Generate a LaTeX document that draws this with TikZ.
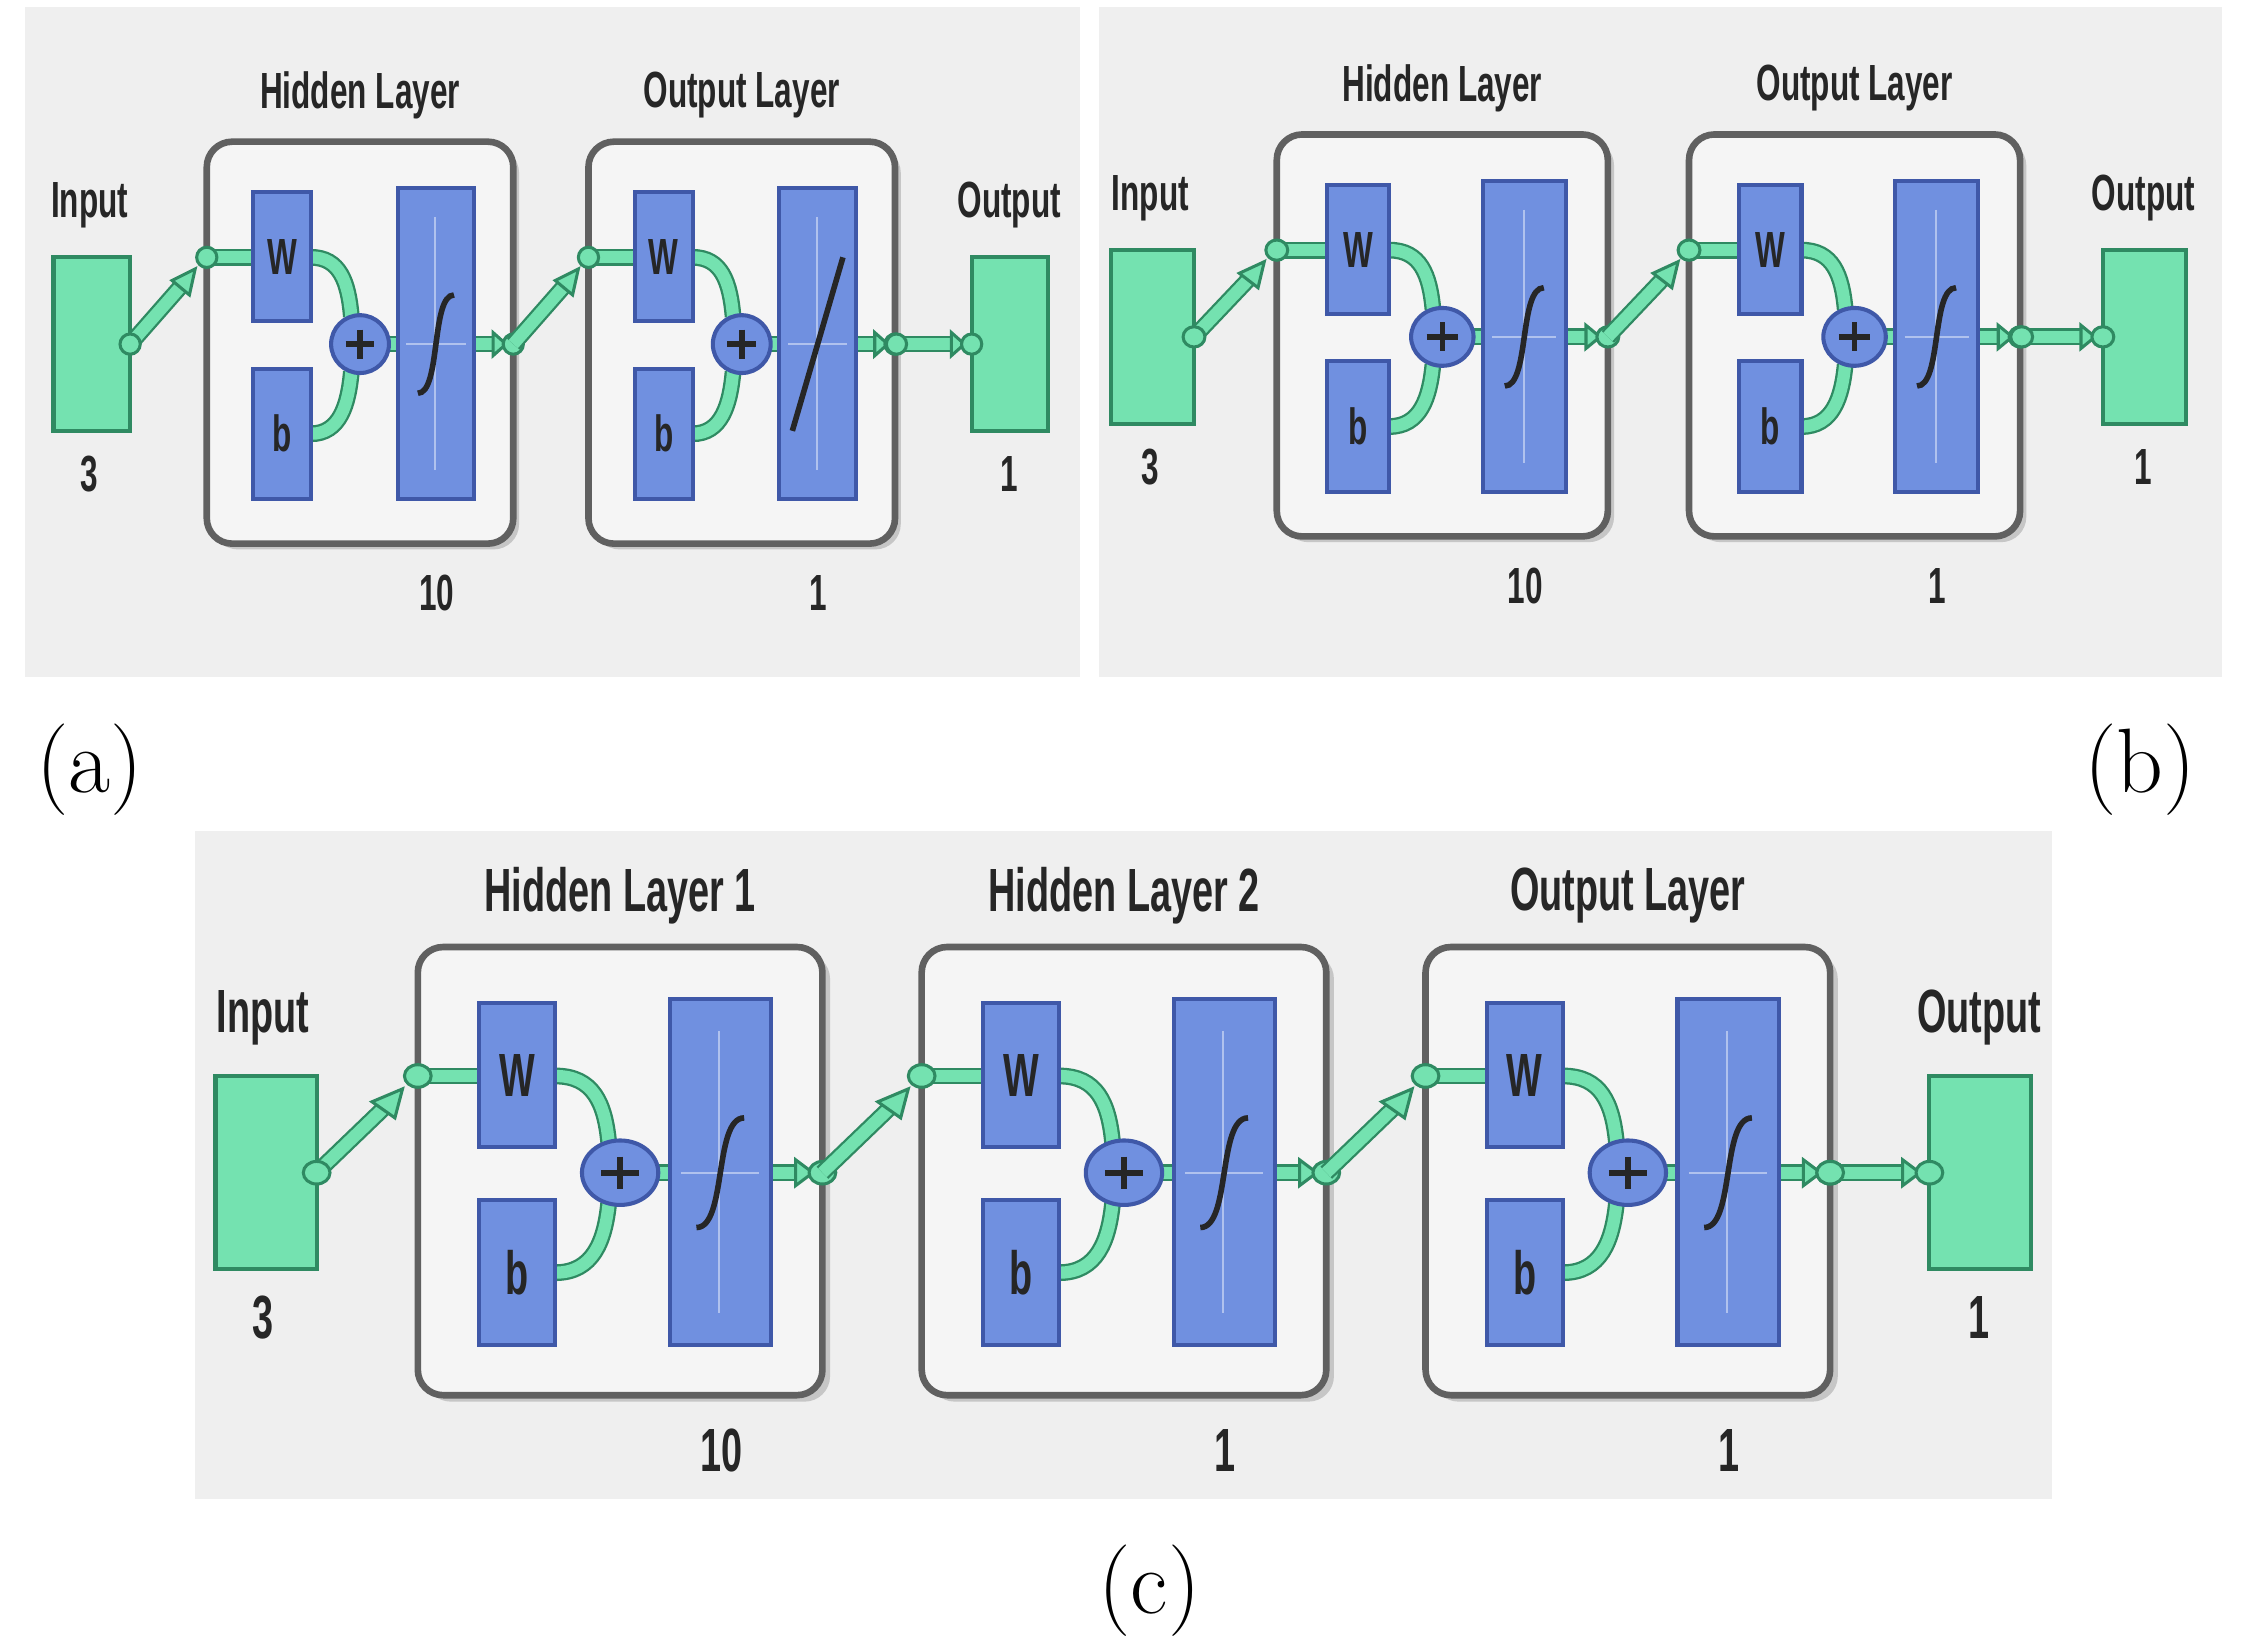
\documentclass[tikz,border=0pt]{standalone}
\usepackage{fontspec}
\newfontfamily\lab[FakeStretch=0.62]{Liberation Sans}
\definecolor{bgc}{HTML}{EFEFEF}
\definecolor{boxc}{HTML}{F5F5F5}
\definecolor{blueF}{HTML}{7090E0}
\definecolor{blueD}{HTML}{3F58A8}
\definecolor{greenF}{HTML}{74E2B0}
\definecolor{greenD}{HTML}{2F8A62}
\tikzset{
 lbox/.style={draw=gray!75!black, line width=1.3pt, fill=boxc, rounded corners=5pt},
 lshadow/.style={fill=gray!45, rounded corners=5pt},
 bluebox/.style={fill=blueF, draw=blueD, line width=0.8pt},
 gblock/.style={fill=greenF, draw=greenD, line width=0.8pt},
 conn/.style={draw=greenD, double=greenF, double distance=2.4pt, line width=0.45pt},
 dot/.style={fill=greenF, draw=greenD, line width=0.6pt},
 glyph/.style={line width=1.1pt, black!85},
 lbl/.style={font=\lab\bfseries\fontsize{\lsz}{\lsz}\selectfont, text=black!85},
 captext/.style={font=\fontsize{18}{20}\selectfont},
}
\def\lsz{10}
\newcommand\sigglyph{\draw[glyph] (146,272) .. controls (162,272) and (155,204) .. (171,204);}
\newcommand\linglyph{\draw[glyph] (141,298) -- (176,178);}
% #1 x0, #2 glyph, #3 title, #4 number
\newcommand\nnlayer[4]{%
 \begin{scope}[shift={(#1,0)}]
 \fill[lshadow] (4,102) rectangle (216,380);
 \draw[lbox] (0,98) rectangle (212,376);
 \draw[conn] (0,178) -- (32,178);
 \draw[conn] (72,178) .. controls (92,178) and (98,195) .. (100,219);
 \draw[conn] (72,300) .. controls (92,300) and (98,280) .. (100,257);
 \draw[conn] (126,238) -- (132,238);
 \draw[conn] (185,238) -- (200,238);
 \draw[dot] (198,230) -- (207,238) -- (198,246) -- cycle;
 \draw[bluebox] (32,133) rectangle (72,222);
 \draw[bluebox] (32,255) rectangle (72,345);
 \draw[bluebox] (132,130) rectangle (185,345);
 \draw[blueF!55!white, line width=0.4pt] (158,150) -- (158,325) (138,238) -- (179,238);
 #2
 \draw[bluebox] (106,238) circle (20);
 \draw[glyph] (96,238) -- (116,238) (106,228) -- (106,248);
 \node[lbl] at (52,178) {W};
 \node[lbl] at (52,300) {b};
 \draw[dot] (0,178) circle (7);
 \draw[dot] (212,238) circle (7);
 \node[lbl] at (106,66) {#3};
 \node[lbl] at (159,410) {#4};
 \end{scope}}
\newcommand\interarrow[1]{%
 \begin{scope}[shift={(#1,0)}]
 \draw[conn] (0,238) -- (36,197);
 \draw[dot] (45,186) -- (41,204) -- (29,194) -- cycle;
 \end{scope}}
\newcommand\nninput{%
 \draw[gblock] (37,178) rectangle (90,298);
 \interarrow{90}
 \draw[dot] (90,238) circle (7);
 \node[lbl] at (62,142) {Input};
 \node[lbl] at (62,328) {3};}
\newcommand\nnoutput[1]{%
 \begin{scope}[shift={(#1,0)}]
 \draw[gblock] (52,178) rectangle (105,298);
 \draw[conn] (0,238) -- (40,238);
 \draw[dot] (38,230) -- (47,238) -- (38,246) -- cycle;
 \draw[dot] (0,238) circle (7);
 \draw[dot] (52,238) circle (7);
 \node[lbl] at (78,142) {Output};
 \node[lbl] at (78,328) {1};
 \end{scope}}
\begin{document}
\begin{tikzpicture}[x=0.01cm,y=-0.01cm]
\useasboundingbox[fill=white] (0,0) rectangle (1552,1137);
\fill[bgc] (17,5) rectangle (747,468);
\fill[bgc] (760,5) rectangle (1537,468);
\fill[bgc] (135,575) rectangle (1419,1037);
\begin{scope}
 \nninput
 \nnlayer{143}{\sigglyph}{Hidden Layer}{10}
 \interarrow{355}
 \nnlayer{407}{\linglyph}{Output Layer}{1}
 \nnoutput{620}
\end{scope}
\begin{scope}[shift={(728.6,-5)}, xscale=1.08]
 \nninput
 \nnlayer{143}{\sigglyph}{Hidden Layer}{10}
 \interarrow{355}
 \nnlayer{407}{\sigglyph}{Output Layer}{1}
 \nnoutput{620}
\end{scope}
\def\lsz{12}
\begin{scope}[shift={(100.2,545.7)}, xscale=1.32, yscale=1.115]
 \nninput
 \nnlayer{143}{\sigglyph}{Hidden Layer 1}{10}
 \interarrow{355}
 \nnlayer{407}{\sigglyph}{Hidden Layer 2}{1}
 \interarrow{619}
 \nnlayer{671}{\sigglyph}{Output Layer}{1}
 \nnoutput{883}
\end{scope}
\node[captext] (ca) at (62,532) {(a)};
\node[captext] (cb) at (1480,532) {(b)};
\node[captext] (cc) at (795,1100) {(c)};
\end{tikzpicture}
\end{document}
